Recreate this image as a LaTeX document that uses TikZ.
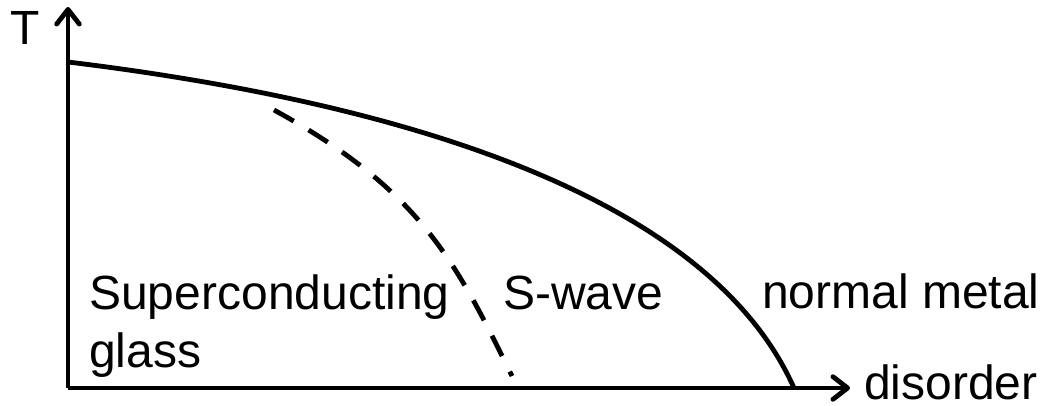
\documentclass[tikz,border=0pt]{standalone}
\usepackage{fontspec}
\setmainfont{Liberation Sans}
\usetikzlibrary{arrows.meta}
\begin{document}
\begin{tikzpicture}[x=0.75pt,y=-0.75pt,
  axisline/.style={line width=3.6pt,-{Straight Barb[length=11pt,width=17pt,line cap=round,line join=round]}},
  boundary/.style={line width=3.6pt,line cap=butt},
  dashedline/.style={line width=3.6pt,dash pattern=on 17pt off 13pt},
  lbl/.style={anchor=base west,inner sep=0pt,font=\fontsize{36}{42}\selectfont}]
\useasboundingbox (0,0) rectangle (1048,406);
\coordinate (O) at (68,388);
\coordinate (Ttip) at (68,7);
\coordinate (Xtip) at (850,388);
\coordinate (c0) at (68,62);
\coordinate (c1) at (794,388);
\coordinate (d0) at (274,110);
\coordinate (d1) at (512,376);
\draw[axisline] (O) -- (Ttip);
\draw[axisline] (O) -- (Xtip);
\draw[boundary] (c0) .. controls (380,100) and (705,188) .. (c1);
\draw[dashedline] (d0) .. controls (420,190) and (455,260) .. (d1);
\node[lbl] (tlab) at (10,45) {T};
\node[lbl] (sc) at (89,309) {Superconducting};
\node[lbl] (gl) at (89,367) {glass};
\node[lbl] (sw) at (503,309) {S-wave};
\node[lbl] (nm) at (762,308) {normal metal};
\node[lbl] (dis) at (864,399) {disorder};
\end{tikzpicture}
\end{document}
